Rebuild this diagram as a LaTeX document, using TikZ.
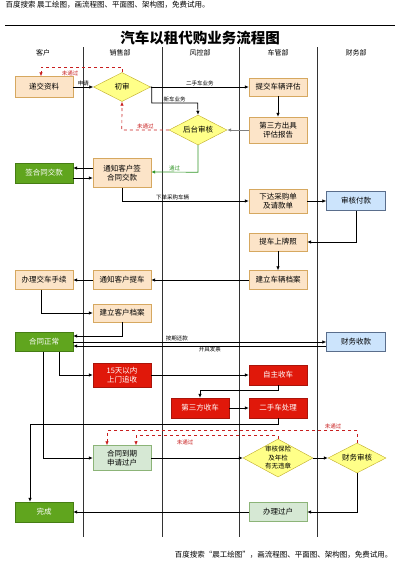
\documentclass[tikz,border=0pt]{standalone}
\usepackage{fontspec}
\setmainfont{Noto Sans CJK SC}
\usepackage{tikz}
\usetikzlibrary{arrows.meta}
\usetikzlibrary{shapes.geometric}
\definecolor{peachfill}{RGB}{252,228,200}
\definecolor{peachline}{RGB}{214,168,96}
\definecolor{diafill}{RGB}{255,255,136}
\definecolor{dialine}{RGB}{190,170,40}
\definecolor{leaffill}{RGB}{96,165,30}
\definecolor{leafline}{RGB}{70,125,20}
\definecolor{skyfill}{RGB}{204,228,252}
\definecolor{skyline}{RGB}{90,110,140}
\definecolor{alertfill}{RGB}{224,24,10}
\definecolor{alertline}{RGB}{170,20,10}
\definecolor{mintfill}{RGB}{214,232,212}
\definecolor{mintline}{RGB}{140,180,120}
\definecolor{failred}{RGB}{200,30,30}
\definecolor{passgreen}{RGB}{50,150,40}
\newcommand{\boxfont}{\fontsize{7.5}{9.5}\selectfont}
\newcommand{\labfont}{\fontsize{5.5}{6.5}\selectfont}

\begin{document}
\begin{tikzpicture}[x=1pt,y=-1pt,
		box/.style={draw=peachline, fill=peachfill, minimum width=58pt, minimum height=19pt, inner sep=1pt, align=center, font=\boxfont},
		leaf/.style={box, draw=leafline, fill=leaffill, text=white},
		sky/.style={box, draw=skyline, fill=skyfill},
		alert/.style={box, draw=alertline, fill=alertfill, text=white},
		mint/.style={box, draw=mintline, fill=mintfill},
		diam/.style={diamond, shape aspect=2, draw=dialine, fill=diafill, inner sep=0pt, minimum width=58pt, minimum height=30pt, align=center, font=\boxfont},
		arr/.style={-{Latex[length=4pt,width=3.5pt]}, line width=0.7pt},
		fail/.style={arr, failred, dashed},
		lab/.style={font=\labfont, inner sep=1pt},
		lane/.style={font=\fontsize{7}{8}\selectfont}]
		\useasboundingbox (0,0) rectangle (400,562);
		
		\node [anchor=west, font=\fontsize{7.5}{8}\selectfont] (top) at (2,5) {百度搜索 晨工绘图，画流程图、平面图、架构图，免费试用。};
		\draw [line width=0.8pt] (5,25) -- (395,25);
		\node [font=\fontsize{14.5}{16}\selectfont\bfseries] (title) at (200,38) {汽车以租代购业务流程图};
		\node [lane] (h1) at (43,53) {客户};
		\node [lane] (h2) at (120,53) {销售部};
		\node [lane] (h3) at (200,53) {风控部};
		\node [lane] (h4) at (278,53) {车管部};
		\node [lane] (h5) at (356,53) {财务部};
		\foreach \x in {83,162,239,317}
			\draw [line width=0.8pt, black!80] (\x,47) -- (\x,537);
		
		\node [box, minimum height=21pt] (dj) at (44,87) {递交资料};
		\node [diam, minimum width=57pt, minimum height=29pt] (cs) at (122,87) {初审};
		\node [box, minimum height=18pt] (tj) at (278,87) {提交车辆评估};
		\node [box, minimum height=26pt] (dsf) at (278,130) {第三方出具\\评估报告};
		\node [diam] (ht) at (198,130) {后台审核};
		\node [box, minimum height=29pt] (tz) at (122,173) {通知客户签\\合同交款};
		\node [leaf, minimum height=20pt] (qh) at (44,173) {签合同交款};
		\node [box, minimum height=24pt] (xd) at (278,201) {下达采购单\\及请款单};
		\node [sky, minimum width=59pt] (sh) at (356,201) {审核付款};
		\node [box, minimum height=18pt] (tc) at (278,242) {提车上牌照};
		\node [box] (jl) at (278,280) {建立车辆档案};
		\node [box] (tzt) at (122,280) {通知客户提车};
		\node [box] (bl) at (44,280) {办理交车手续};
		\node [box, minimum height=18pt] (jk) at (122,313) {建立客户档案};
		\node [leaf] (zc) at (44,342) {合同正常};
		\node [sky, minimum width=59pt] (sk) at (356,342) {财务收款};
		\node [alert, minimum height=24pt] (zs) at (122,375) {15天以内\\上门追收};
		\node [alert, minimum height=20pt] (zz) at (278,375) {自主收车};
		\node [alert, minimum height=20pt] (ds) at (200,408) {第三方收车};
		\node [alert, minimum height=20pt] (es) at (278,408) {二手车处理};
		\node [mint, minimum height=25pt] (dq) at (122,458) {合同到期\\申请过户};
		\node [diam, minimum width=70pt, minimum height=38pt] (cg) at (278,458) {};
		\node [align=center, font=\fontsize{6.5}{8.5}\selectfont] (cgt) at (cg) {审核保险\\及年检\\有无违章};
		\node [diam] (cw) at (357,458) {财务审核};
		\node [mint] (gh) at (278,512) {办理过户};
		\node [leaf, minimum height=20pt] (wc) at (44,512) {完成};
		
		\draw [arr] (dj) -- node [lab, above] (l1) {申请} (cs);
		\draw [fail] (cs.north) -- ++(0,-5) -| ([xshift=-3pt]dj.north);
		\node [lab, failred] (f1) at (70,73) {未通过};
		\draw [arr] (cs.east) -- node [lab, above] (l2) {二手车业务} (tj.west);
		\draw [arr] (cs.east) -- ++(1,0) -- ++(0,16) -- node [lab, above] (l3) {新车业务} ++(46,0) -- (ht.north);
		\draw [arr] (tj) -- (dsf);
		\draw [arr, gray] (dsf) -- (ht);
		\draw [fail] (ht.west) -- node [lab, above, failred] (f2) {未通过} ++(-47,0) -- (cs.south);
		\draw [arr, passgreen] (ht.south) -- ++(0,27) -- node [lab, above, passgreen] (l4) {通过} (tz.east |- 0,172);
		\draw [arr] ([yshift=5pt]tz.west) -- ([yshift=5pt]qh.east);
		\draw [arr] ([yshift=-5pt]qh.east) -- ([yshift=-5pt]tz.west);
		\draw [arr] (tz.south) |- node [lab, above, pos=0.7] (l5) {下单采购车辆} (xd.west);
		\draw [arr] (xd) -- (sh);
		\draw [arr] (sh.south) |- (tc.east);
		\draw [arr] (tc) -- (jl);
		\draw [arr] (jl) -- (tzt);
		\draw [arr] (tzt) -- (bl);
		\draw [arr] ([xshift=-3pt]bl.south) |- (jk.west);
		\draw [arr] (jk.south) |- ([yshift=6pt]zc.east);
		\draw [arr] (zc.east) -- node [lab, above, pos=0.41] (l6) {按期还款} (sk.west);
		\draw [arr] ([yshift=-4pt]sk.west) -- node [lab, below, pos=0.46] (l7) {开具发票} ([yshift=-4pt]zc.east);
		\draw [arr] ([xshift=15pt]zc.south) |- (zs.west);
		\draw [arr] (zs) -- (zz);
		\draw [arr] (zz.south) -- ++(0,5) -| (ds.north);
		\draw [arr] (ds) -- (es);
		\draw [arr] (es.south) -- ++(0,6) -| ([xshift=-14pt]wc.north);
		\draw [arr] ([xshift=-1pt]zc.south) |- (dq.west);
		\draw [arr] (dq) -- (cg);
		\draw [arr] (cg) -- (cw);
		\draw [arr] (cw.south) |- (gh.east);
		\draw [arr] (gh) -- (wc);
		\draw [fail] (cg.north) -- ++(0,-3) -| ([xshift=14pt]dq.north);
		\draw [fail] (cw.north) -- ++(0,-12) -| ([xshift=-15pt]dq.north);
		\node [lab, failred] (f3) at (185,442) {未通过};
		\node [lab, failred] (f4) at (333,426) {未通过};
		
		\node [anchor=east, font=\fontsize{7.5}{8}\selectfont] (bottom) at (396,555) {百度搜索“晨工绘图”，画流程图、平面图、架构图，免费试用。};
	\end{tikzpicture}
\end{document}
